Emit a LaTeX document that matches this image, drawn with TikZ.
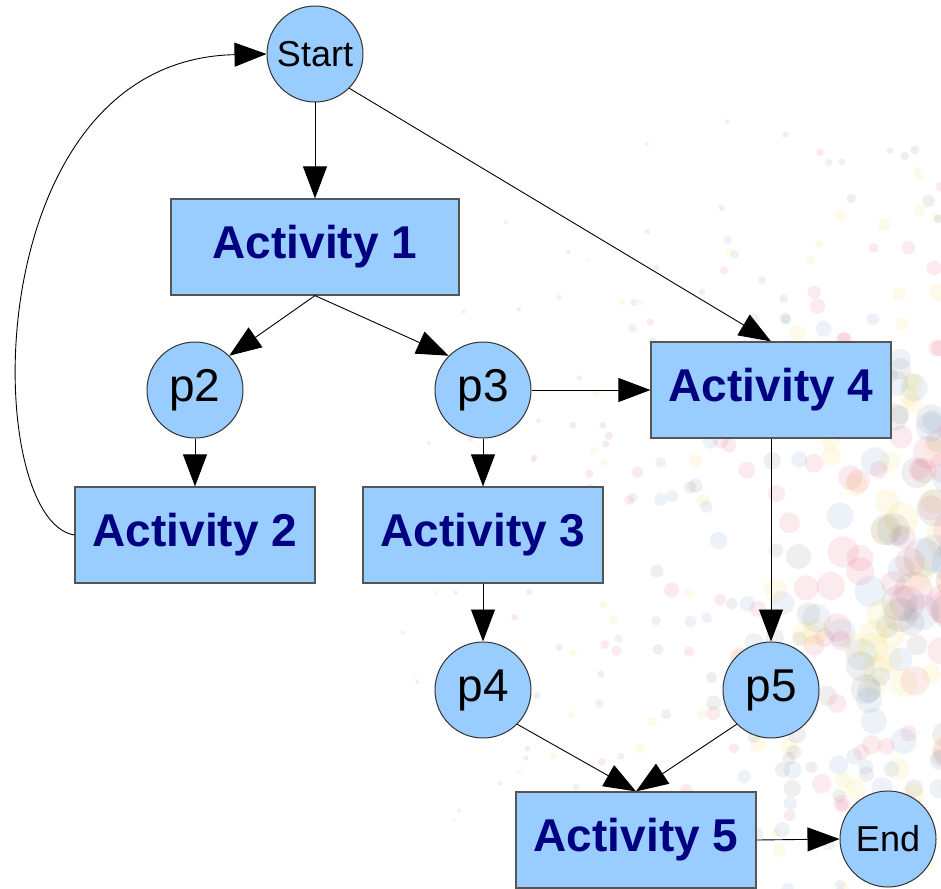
\documentclass[tikz,border=0pt]{standalone}
\usepackage{fontspec}
\setmainfont{Liberation Sans}
\usepackage{xcolor}
\usepackage{tikz}
\usetikzlibrary{arrows.meta, shapes.geometric}
\definecolor{placecolor}{RGB}{153, 204, 255}
\definecolor{labelcolor}{RGB}{0, 0, 128}
\definecolor{edgecolor}{RGB}{85, 85, 85}
\definecolor{dotgray}{RGB}{110, 110, 110}
\definecolor{dotred}{RGB}{225, 70, 100}
\definecolor{dotyellow}{RGB}{235, 205, 60}
\definecolor{dotblue}{RGB}{90, 140, 200}

\begin{document}
\begin{tikzpicture}[
    x=0.5pt, y=-0.5pt,
    place/.style={draw=black!80, fill=placecolor, circle, line width=0.5pt, minimum size=48pt, inner sep=0pt, font=\fontsize{23}{26}\selectfont},
    endpoint/.style={place, font=\fontsize{18}{21}\selectfont},
    activity/.style={draw=edgecolor, fill=placecolor, line width=0.6pt, minimum width=120pt, minimum height=48pt, inner sep=0pt, text=labelcolor, font=\fontsize{23}{26}\selectfont\bfseries},
    flow/.style={draw=black, line width=0.45pt, -{Triangle[length=16pt, width=12pt]}}
]
    \useasboundingbox (0,0) rectangle (941,888);

    % Background dots
    \pgfmathsetseed{4711}
    \pgfmathdeclarerandomlist{bokeh}{{dotgray}{dotred}{dotyellow}{dotblue}}
    \foreach \i in {1,...,1100}{
        \pgfmathsetmacro{\bx}{380+580*rnd}
        \pgfmathsetmacro{\by}{120+780*rnd}
        \pgfmathsetmacro{\bd}{min(1,veclen(\bx-1020,\by-580)/660)}
        \pgfmathsetmacro{\bk}{rnd}
        \pgfmathrandomitem{\bc}{bokeh}
        \pgfmathsetmacro{\br}{2+26*(1-\bd)*(1-\bd)*(0.45+0.55*rnd)}
        \ifdim \bk pt > \bd pt
            \fill[\bc, fill opacity=0.11] (\bx,\by) circle[radius=\br];
        \fi
    }

    % Places and activities
    \node[endpoint] (start) at (315, 54) {Start};
    \node[activity, minimum width=144pt] (act1) at (315, 247) {Activity 1};
    \node[place] (p2) at (195, 390) {p2};
    \node[place] (p3) at (483, 390) {p3};
    \node[activity] (act4) at (771, 390) {Activity 4};
    \node[activity] (act2) at (195, 535) {Activity 2};
    \node[activity] (act3) at (483, 535) {Activity 3};
    \node[place] (p4) at (483, 690) {p4};
    \node[place] (p5) at (771, 690) {p5};
    \node[activity] (act5) at (636, 840) {Activity 5};
    \node[endpoint] (end) at (888, 839) {End};

    % Flow arrows
    \draw[flow] (start.south) -- (act1.north);
    \draw[flow] (start.south east) -- (act4.north);
    \draw[flow] (act1.south) -- (p2.north east);
    \draw[flow] (act1.south) -- (p3.north west);
    \draw[flow] (p2.south) -- (act2.north);
    \draw[flow] (p3.south) -- (act3.north);
    \draw[flow] (p3.east) -- (act4.west);
    \draw[flow] (act3.south) -- (p4.north);
    \draw[flow] (act4.south) -- (p5.north);
    \draw[flow] (p4.south east) -- (act5.north);
    \draw[flow] (p5.south west) -- (act5.north);
    \draw[flow] (act5.east) -- (end.west);

    % Loop back
    \draw[flow] (act2.west) .. controls (-20, 520) and (-25, 60) .. (start.west);

\end{tikzpicture}
\end{document}
